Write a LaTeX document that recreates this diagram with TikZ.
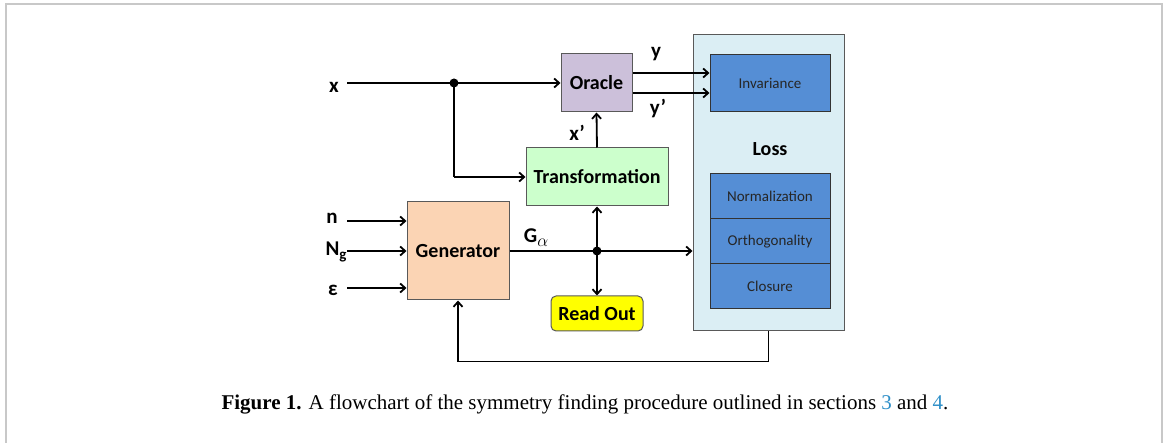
\documentclass[tikz,border=0pt]{standalone}
\usepackage{fontspec}
\setmainfont{Carlito}
\newfontfamily\capfont{Liberation Serif}
\usetikzlibrary{arrows.meta,calc}
\definecolor{oraclec}{HTML}{CCC0DA}
\definecolor{transc}{HTML}{CCFFCC}
\definecolor{genc}{HTML}{FBD4B4}
\definecolor{readc}{HTML}{FFFF00}
\definecolor{lossc}{HTML}{DBEEF4}
\definecolor{bluec}{HTML}{558ED5}
\definecolor{framec}{HTML}{C8C8C8}
\definecolor{capblue}{HTML}{2E8FC8}
\tikzset{
  box/.style={draw=black!65, line width=1pt, inner sep=0pt, font=\fontsize{20}{23}\selectfont\bfseries},
  subbox/.style={draw=black!80, line width=1pt, fill=bluec, minimum width=120pt, inner sep=0pt, font=\fontsize{15}{17}\selectfont, text=black!85},
  lab/.style={inner sep=0pt, font=\fontsize{21}{24}\selectfont\bfseries},
  conn/.style={line width=1.8pt, -{Straight Barb[length=5pt,width=9pt]}},
  line/.style={line width=1.8pt},
  dotc/.style={circle, fill=black, inner sep=0pt, minimum size=9pt},
}
\begin{document}
\begin{tikzpicture}[x=1pt,y=-1pt]
\useasboundingbox (0,0) rectangle (1168,443);
% outer frame
\draw[framec, line width=2pt] (6,460) -- (6,4) -- (1162,4) -- (1162,460);
% loss box
\node[box, fill=lossc, minimum width=151pt, minimum height=296pt] (loss) at (768.5,183) {};
\node[subbox, minimum height=57pt] (inv) at (770,83.5) {Invariance};
\node[subbox, minimum height=45pt] (norm) at (770,196.5) {Normalization};
\node[subbox, minimum height=45pt] (orth) at (770,241.5) {Orthogonality};
\node[subbox, minimum height=45pt] (clos) at (770,286.5) {Closure};
\node[lab, font=\fontsize{20}{23}\selectfont\bfseries] (losslab) at (770,149) {Loss};
% main boxes
\node[box, fill=oraclec, minimum width=71pt, minimum height=58pt] (oracle) at (596.5,83) {Oracle};
\node[box, fill=transc, minimum width=142pt, minimum height=58pt] (trans) at (597,177) {Transformation};
\node[box, fill=genc, minimum width=102pt, minimum height=98pt] (gen) at (458,251) {Generator};
\node[box, fill=readc, rounded corners=5pt, minimum width=92pt, minimum height=35pt] (read) at (597,313.5) {Read Out};
% labels
\node[lab] (xlab) at (334,87) {x};
\node[lab] (xplab) at (577,133) {x’};
\node[lab] (ylab) at (656,54) {y};
\node[lab] (yplab) at (658,109) {y’};
\node[lab] (nlab) at (332,218) {n};
\node[lab] (Nglab) at (336,252) {N\raisebox{-0.4ex}{\fontsize{15}{16}\selectfont g}};
\node[lab] (epslab) at (333,290) {ε};
\node[lab] (galab) at (536,238) {G\raisebox{-0.4ex}{\fontsize{17}{18}\selectfont\normalfont$\alpha$}};
% coordinates
\coordinate (xs) at (347,83);
\coordinate (ni) at (347,221);
\coordinate (Ngi) at (347,251);
\coordinate (ei) at (347,288);
\node[dotc] (d1) at (454,83) {};
\node[dotc] (d2) at (597,251) {};
% connectors
\draw[conn] (xs) -- (oracle.west);
\draw[line] (d1.center) -- (d1.center |- trans.west);
\draw[conn] (d1.center |- trans.west) -- (trans.west);
\draw[conn] (trans.north) -- (oracle.south);
\draw[conn] ([yshift=10pt]oracle.east) -- ([yshift=10pt]oracle.east -| inv.west);
\draw[conn] ([yshift=-10pt]oracle.east) -- ([yshift=-10pt]oracle.east -| inv.west);
\draw[conn] (ni) -- (ni -| gen.west);
\draw[conn] (Ngi) -- (Ngi -| gen.west);
\draw[conn] (ei) -- (ei -| gen.west);
\draw[conn] (gen.east |- d2) -- (d2 -| loss.west);
\draw[conn] (d2.center) -- (trans.south);
\draw[conn] (d2.center) -- (read.north);
\draw[conn] (loss.south) -- ++(0,30) -| (gen.south);
% caption
\node[inner sep=0pt, font=\capfont\fontsize{21}{24}\selectfont] (cap) at (585,404) {\textbf{Figure 1.} A flowchart of the symmetry finding procedure outlined in sections \textcolor{capblue}{3} and \textcolor{capblue}{4}.};
\end{tikzpicture}
\end{document}
